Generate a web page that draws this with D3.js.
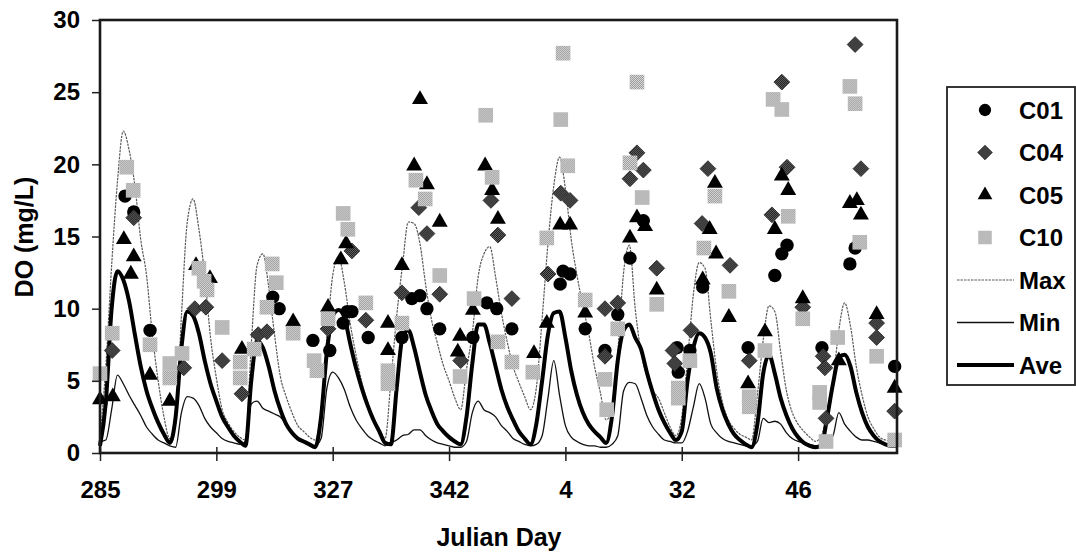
<!DOCTYPE html>
<html>
<head>
<meta charset="utf-8">
<script src="https://cdn.jsdelivr.net/npm/d3@7/dist/d3.min.js"></script>
<style>
  html, body { margin: 0; padding: 0; background: #fff; }
  svg text { font-family: "Liberation Sans", Arial, Helvetica, sans-serif; font-weight: bold; fill: #000; }
</style>
</head>
<body>
<svg id="chart" width="1076" height="553"></svg>
<script>
// Julian day labels shown along the category axis (one label every 20 samples)
const dayLabels = ["285", "299", "327", "342", "4", "32", "46"];
const labelEvery = 20;
const yTicks = [0, 5, 10, 15, 20, 25, 30];

// Modelled DO (mg/L) per sample: maximum, minimum and average
const maxDO = [1.0, 6.0, 13.0, 18.8, 22.3, 21.0, 18.5, 14.8, 12.3, 8.2,
  5.0, 2.5, 1.0, 2.0, 9.5, 16.0, 17.6, 15.5, 12.3, 8.0,
  5.2, 3.0, 2.1, 1.5, 1.1, 0.9, 7.5, 13.0, 13.8, 11.5,
  8.2, 5.3, 3.9, 2.8, 1.9, 1.5, 1.1, 0.9, 3.0, 8.0,
  12.3, 13.6, 11.8, 9.0, 6.8, 4.9, 3.5, 2.4, 1.7, 1.0,
  5.0, 9.5, 13.0, 16.0, 15.9, 14.5, 11.6, 9.2, 7.6, 6.1,
  5.0, 3.8, 3.0, 5.8, 8.3, 12.2, 13.8, 14.3, 12.2, 9.7,
  7.7, 6.0, 4.9, 3.9, 3.0, 4.5, 9.3, 14.5, 18.5, 20.5,
  18.3, 14.8, 12.3, 10.2, 8.3, 6.0, 4.2, 2.3, 3.0, 7.0,
  12.5, 14.4, 10.0, 7.0, 5.3, 4.3, 3.8, 2.8, 1.8, 1.2,
  2.5, 6.5, 11.0, 13.2, 12.8, 9.2, 5.7, 3.5, 2.3, 1.7,
  1.3, 1.1, 0.9, 4.0, 7.8, 10.2, 9.8, 7.0, 4.3, 2.8,
  2.0, 1.5, 1.1, 0.8, 1.2, 2.8, 5.0, 8.5, 10.4, 8.8,
  6.0, 4.0, 2.5, 1.7, 1.1, 0.9, 0.8, 0.7];

const minDO = [0.8, 0.9, 3.0, 5.4, 4.8, 4.0, 3.3, 2.6, 1.8, 1.3,
  0.9, 0.7, 0.5, 0.4, 2.8, 3.9, 3.8, 3.3, 2.4, 1.8,
  1.4, 1.0, 0.8, 0.7, 0.6, 0.8, 3.4, 3.6, 3.1, 2.9,
  2.7, 2.5, 2.0, 1.5, 1.1, 0.8, 0.6, 0.5, 1.0, 4.5,
  5.6, 5.2, 4.4, 3.2, 2.3, 1.7, 1.2, 0.9, 0.7, 0.5,
  0.7, 0.9, 1.2, 1.3, 1.6, 1.6, 1.2, 0.9, 0.7, 0.6,
  0.5, 0.4, 0.4, 0.8, 2.8, 3.6, 3.0, 2.8, 2.5, 1.9,
  1.5, 1.0, 0.8, 0.6, 0.5, 0.6, 1.2, 3.8, 6.4, 4.0,
  1.9, 1.1, 0.8, 0.6, 0.5, 0.5, 0.4, 0.4, 0.6, 1.2,
  4.3, 4.9, 4.8, 3.8, 2.6, 1.8, 1.3, 0.9, 0.8, 0.7,
  0.7, 1.5, 3.2, 4.8, 3.8, 2.0, 1.4, 1.0, 0.8, 0.7,
  0.6, 0.5, 0.5, 0.8, 2.4, 2.1, 2.2, 2.0, 1.4, 1.0,
  0.8, 0.7, 0.6, 0.5, 0.6, 0.8, 1.2, 2.8, 2.0, 1.5,
  1.1, 0.9, 0.9, 0.8, 0.7, 0.6, 0.6, 0.5];

const aveDO = [0.5, 3.5, 10.0, 12.6, 12.0, 10.5, 8.2, 6.0, 4.3, 3.1,
  2.1, 1.3, 0.7, 2.5, 7.3, 9.8, 9.5, 8.3, 6.4, 4.8,
  3.6, 2.5, 1.8, 1.2, 0.8, 0.5, 5.0, 7.8, 7.3, 6.0,
  4.3, 3.0, 2.0, 1.4, 1.0, 0.8, 0.6, 0.4, 2.5, 7.0,
  9.5, 9.9, 9.4, 7.6, 5.9, 4.5, 3.3, 2.3, 1.5, 0.7,
  0.6, 4.5, 8.0, 8.5, 7.3, 5.6, 4.0, 2.9, 2.0, 1.5,
  1.1, 0.8, 0.6, 2.5, 6.2, 8.9, 8.9, 7.6, 6.0, 4.4,
  3.2, 2.3, 1.5, 1.0, 0.6, 2.0, 5.0, 8.2, 9.7, 9.8,
  8.0, 5.7, 4.0, 2.8, 2.0, 1.5, 1.1, 0.7, 2.5, 6.4,
  8.5, 8.9, 8.0, 7.2, 5.6, 4.2, 3.0, 2.1, 1.4, 0.9,
  1.5, 5.0, 7.3, 8.3, 8.0, 6.9, 4.5, 3.0, 2.0, 1.3,
  0.9, 0.6, 0.4, 2.0, 5.5, 6.8, 5.5, 3.8, 2.6, 1.7,
  1.1, 0.7, 0.5, 0.4, 0.5, 2.5, 4.8, 6.6, 6.8, 6.0,
  4.2, 2.8, 1.8, 1.2, 0.8, 0.6, 0.5, 0.5];

// Observed DO at stations: [sample position, mg/L]
const c01 = [[4.3, 17.8], [5.8, 16.7], [8.6, 8.5],
  [29.7, 10.8], [30.8, 10.0],
  [36.6, 7.8], [39.5, 7.1], [41.8, 9.0], [42.5, 9.8], [43.3, 9.8], [46.1, 8.0],
  [51.9, 8.0], [53.6, 10.7], [55.0, 10.9], [56.2, 10.0], [58.4, 8.6],
  [64.1, 8.0], [66.5, 10.4], [68.2, 10.0], [70.8, 8.6],
  [79.1, 11.7], [79.6, 12.6], [80.8, 12.4], [83.4, 8.6], [86.8, 7.1], [89.0, 9.6],
  [91.1, 13.5], [93.4, 16.1], [99.2, 7.3], [99.4, 5.6], [101.4, 7.1],
  [103.6, 11.5], [111.4, 7.3],
  [116.0, 12.3], [117.2, 13.8], [118.1, 14.4], [124.1, 7.3],
  [128.9, 13.1], [129.8, 14.2], [136.6, 6.0]];

const c04 = [[2.1, 7.1], [5.8, 16.3],
  [14.4, 5.9], [16.3, 10.0], [18.2, 10.1], [21.0, 6.4],
  [24.4, 4.1], [27.2, 8.2], [28.7, 8.4],
  [39.2, 8.6], [43.3, 14.0], [45.7, 9.2],
  [51.9, 11.1], [54.8, 17.0], [56.2, 15.2], [58.4, 11.0], [62.0, 6.4],
  [67.2, 17.5], [68.4, 15.1], [70.8, 10.7],
  [77.0, 12.4], [79.2, 18.0], [80.8, 17.5], [86.8, 10.0], [86.8, 6.7], [89.0, 10.4],
  [92.3, 20.8], [91.1, 19.0], [93.4, 19.6], [95.7, 12.8], [98.5, 7.1], [98.8, 6.2], [101.6, 8.5],
  [103.5, 15.9], [104.5, 19.7], [108.3, 13.0], [111.6, 6.4],
  [115.5, 16.5], [117.2, 25.7], [118.1, 19.8], [120.8, 10.1], [124.3, 6.7], [124.6, 5.9], [124.8, 2.4],
  [129.8, 28.3], [130.8, 19.7], [133.5, 9.0], [133.5, 8.0], [136.6, 2.9]];

const c05 = [[0, 3.7], [2.2, 3.9], [4.1, 14.8], [5.8, 13.6], [5.3, 12.4], [8.6, 5.4],
  [12.0, 3.6], [16.5, 13.0], [18.9, 12.1],
  [24.4, 7.2], [33.2, 9.1],
  [39.2, 10.1], [41.4, 13.4], [42.3, 14.5],
  [49.5, 9.0], [49.5, 7.1], [51.9, 13.0], [54.0, 19.9], [55.0, 24.5], [56.2, 18.6], [58.4, 16.0], [61.9, 8.1], [61.5, 7.0],
  [64.1, 9.9], [66.2, 19.9], [67.4, 18.2], [68.4, 16.2], [74.6, 6.9],
  [76.8, 9.0], [79.1, 15.8], [80.8, 15.8], [83.4, 9.7],
  [91.1, 14.9], [92.3, 16.3], [93.7, 15.7], [95.7, 11.3],
  [103.6, 12.0], [104.8, 15.5], [105.7, 18.7], [105.9, 13.8], [108.1, 9.4], [111.4, 4.8], [114.3, 8.4],
  [116.0, 15.5], [117.2, 19.2], [118.3, 18.2], [120.8, 10.7], [127.0, 6.4],
  [128.9, 17.3], [130.1, 17.5], [130.8, 16.5], [133.5, 9.6], [136.6, 4.5]];

const c10 = [[0, 5.5], [2.1, 8.3], [4.6, 19.8], [5.7, 18.2], [8.6, 7.5],
  [12.0, 6.2], [12.0, 5.2], [14.1, 6.9], [17.0, 12.8], [17.9, 11.9], [18.4, 11.3], [21.0, 8.7],
  [24.1, 6.3], [24.1, 5.2], [26.5, 7.2], [28.7, 10.1], [29.6, 13.1], [30.3, 11.8], [33.2, 8.3],
  [36.8, 6.4], [37.3, 5.7], [39.2, 9.3], [41.8, 16.6], [42.6, 15.5], [45.7, 10.4],
  [49.5, 5.7], [49.5, 4.8], [51.9, 9.0], [54.3, 18.9], [55.9, 17.6], [58.4, 12.3], [61.9, 5.3],
  [64.3, 10.7], [66.3, 23.4], [67.4, 19.1], [68.4, 7.7], [70.8, 6.3], [74.4, 5.6],
  [76.8, 14.9], [79.2, 23.1], [79.6, 27.7], [80.4, 19.9], [83.4, 10.6], [86.8, 5.1], [87.1, 3.0], [89.0, 8.6],
  [91.1, 20.1], [92.3, 25.7], [93.2, 17.7], [95.7, 10.3], [99.4, 4.5], [99.4, 3.8], [101.4, 6.4],
  [103.8, 14.2], [105.7, 17.8], [108.1, 11.2], [111.6, 3.9], [111.6, 3.2], [114.3, 7.1],
  [115.7, 24.5], [117.2, 23.8], [118.3, 16.4], [120.8, 9.3], [123.7, 4.2], [123.7, 3.5], [124.8, 0.8], [126.8, 8.0],
  [128.9, 25.4], [129.8, 24.2], [130.6, 14.6], [133.5, 6.7], [136.6, 0.9]];

const svg = d3.select("#chart");
const margin = { left: 100, right: 179, top: 20, bottom: 100 };
const W = 1076, H = 553;
const nSamples = maxDO.length;

const x = d3.scaleLinear().domain([0, nSamples - 1]).range([margin.left, W - margin.right]);
const y = d3.scaleLinear().domain([0, 30]).range([H - margin.bottom, margin.top]);

// dithered fills for the grey markers
const defs = svg.append("defs");
function dither(id, a, b) {
  const p = defs.append("pattern").attr("id", id).attr("width", 2).attr("height", 2)
    .attr("patternUnits", "userSpaceOnUse");
  p.append("rect").attr("width", 2).attr("height", 2).attr("fill", a);
  p.append("rect").attr("width", 1).attr("height", 1).attr("fill", b);
  p.append("rect").attr("x", 1).attr("y", 1).attr("width", 1).attr("height", 1).attr("fill", b);
}
dither("ditherLight", "#dedede", "#959595");
dither("ditherDark", "#6a6a6a", "#151515");

// square-cornered diamond (a square turned 45 degrees)
const squareDiamond = {
  draw(ctx, size) {
    const r = Math.sqrt(size / 2);
    ctx.moveTo(0, -r); ctx.lineTo(r, 0); ctx.lineTo(0, r); ctx.lineTo(-r, 0); ctx.closePath();
  }
};

// marker shapes
const shapes = {
  C01: { sym: d3.symbolCircle, size: 140, fill: "#000", stroke: "none" },
  C04: { sym: squareDiamond, size: 125, fill: "url(#ditherDark)", stroke: "#222" },
  C05: { sym: d3.symbolTriangle, size: 110, fill: "#000", stroke: "none" },
  C10: { sym: d3.symbolSquare, size: 215, fill: "url(#ditherLight)", stroke: "none" }
};

// modelled lines
const line = d3.line().x((d, i) => x(i)).y(d => y(d)).curve(d3.curveMonotoneX);
const plot = svg.append("g");
plot.append("path").datum(maxDO).attr("d", line).attr("fill", "none")
  .attr("stroke", "#5a5a5a").attr("stroke-width", 1.2).attr("stroke-dasharray", "2.5,1");
plot.append("path").datum(minDO).attr("d", line).attr("fill", "none")
  .attr("stroke", "#111").attr("stroke-width", 1.3);
plot.append("path").datum(aveDO).attr("d", line).attr("fill", "none")
  .attr("stroke", "#000").attr("stroke-width", 4);

// observed markers
function drawMarkers(data, key) {
  const s = shapes[key];
  plot.append("g").selectAll("path").data(data).join("path")
    .attr("transform", d => `translate(${x(d[0])},${y(d[1])})`)
    .attr("d", d3.symbol().type(s.sym).size(s.size))
    .attr("fill", s.fill).attr("stroke", s.stroke).attr("stroke-width", 0.8);
}
drawMarkers(c01, "C01");
drawMarkers(c04, "C04");
drawMarkers(c05, "C05");
drawMarkers(c10, "C10");

// axes
const yAxis = d3.axisLeft(y).tickValues(yTicks).tickSize(8).tickPadding(12);
const gy = svg.append("g").attr("transform", `translate(${margin.left},0)`).call(yAxis);
gy.select(".domain").remove();
gy.selectAll(".tick line").attr("stroke", "#222").attr("stroke-width", 1.5);
gy.selectAll("text").attr("font-size", 24);

const xTickVals = dayLabels.map((d, i) => i * labelEvery);
const xAxis = d3.axisBottom(x).tickValues(xTickVals).tickFormat((d, i) => dayLabels[i])
  .tickSize(8).tickPadding(20);
const gx = svg.append("g").attr("transform", `translate(0,${H - margin.bottom})`).call(xAxis);
gx.select(".domain").remove();
gx.selectAll(".tick line").attr("stroke", "#222").attr("stroke-width", 1.5).attr("y1", -6);
gx.selectAll("text").attr("font-size", 24);

// plot frame
svg.append("rect")
  .attr("x", margin.left).attr("y", margin.top)
  .attr("width", W - margin.right - margin.left).attr("height", H - margin.bottom - margin.top)
  .attr("fill", "none").attr("stroke", "#1a1a1a").attr("stroke-width", 2.6);

// axis titles
svg.append("text").attr("x", 499).attr("y", 546).attr("text-anchor", "middle")
  .attr("font-size", 25).text("Julian Day");
svg.append("text").attr("transform", "translate(33,237) rotate(-90)").attr("text-anchor", "middle")
  .attr("font-size", 25).text("DO (mg/L)");

// legend
const legend = svg.append("g");
legend.append("rect").attr("x", 947).attr("y", 87).attr("width", 128).attr("height", 298)
  .attr("fill", "#fff").attr("stroke", "#222").attr("stroke-width", 1.8);
const legendItems = [
  { key: "C01", kind: "marker" }, { key: "C04", kind: "marker" },
  { key: "C05", kind: "marker" }, { key: "C10", kind: "marker" },
  { key: "Max", kind: "line", stroke: "#5a5a5a", w: 1.2, dash: "2.5,1" },
  { key: "Min", kind: "line", stroke: "#111", w: 1.3, dash: null },
  { key: "Ave", kind: "line", stroke: "#000", w: 4, dash: null }
];
legendItems.forEach((it, i) => {
  const ly = 110 + i * 42.5;
  if (it.kind === "marker") {
    const s = shapes[it.key];
    legend.append("path").attr("transform", `translate(985,${ly})`)
      .attr("d", d3.symbol().type(s.sym).size(s.size * 0.85))
      .attr("fill", s.fill).attr("stroke", s.stroke).attr("stroke-width", 0.8);
  } else {
    legend.append("line").attr("x1", 957).attr("x2", 1014).attr("y1", ly).attr("y2", ly)
      .attr("stroke", it.stroke).attr("stroke-width", it.w)
      .attr("stroke-dasharray", it.dash);
  }
  legend.append("text").attr("x", 1019).attr("y", ly).attr("dy", "0.36em")
    .attr("font-size", 24).text(it.key);
});
</script>
</body>
</html>
